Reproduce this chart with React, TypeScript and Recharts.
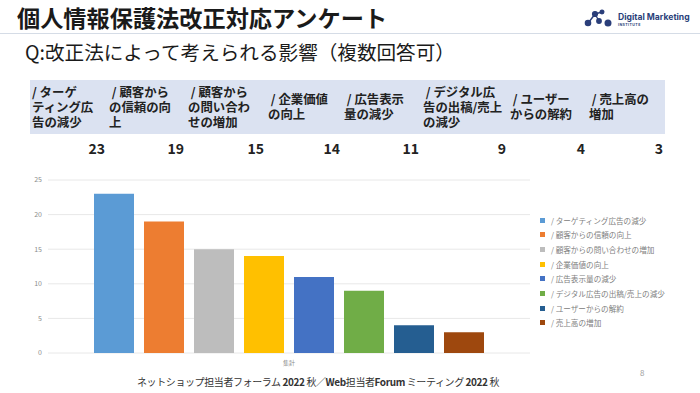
import React from "react"
import { BarChart, Bar, XAxis, YAxis, CartesianGrid } from "recharts"

const categories = [
  "/ ターゲティング広告の減少",
  "/ 顧客からの信頼の向上",
  "/ 顧客からの問い合わせの増加",
  "/ 企業価値の向上",
  "/ 広告表示量の減少",
  "/ デジタル広告の出稿/売上の減少",
  "/ ユーザーからの解約",
  "/ 売上高の増加",
]
// header cells wrap like the slide table
const headerLines = [
  ["/ ターゲ", "ティング広", "告の減少"],
  [" / 顧客から", "の信頼の向", "上"],
  [" / 顧客から", "の問い合わ", "せの増加"],
  [" / 企業価値", "の向上"],
  [" / 広告表示", "量の減少"],
  [" / デジタル広", "告の出稿/売上", "の減少"],
  [" / ユーザー", "からの解約"],
  [" / 売上高の", "増加"],
]
const counts = [23, 19, 15, 14, 11, 9, 4, 3]
const colors = ["#5b9bd5", "#ed7d31", "#bdbdbd", "#ffc000", "#4472c4", "#70ad47", "#255e91", "#9e480e"]
const groupLabel = "集計"
const yTicks = [0, 5, 10, 15, 20, 25]

const colEdges = [30, 107, 186, 266, 342, 421, 508, 587, 665]
const FONT = "'Noto Sans CJK JP', 'Noto Sans', sans-serif"

const chartData = [
  counts.reduce<Record<string, number | string>>(
    (row, v, i) => {
      row[`s${i}`] = v
      return row
    },
    { name: groupLabel }
  ),
]

function Logo() {
  return (
    <svg width={118} height={32} style={{ position: "absolute", left: 582, top: 2 }}>
      <g fill="#2b3f7a" stroke="#2b3f7a" strokeWidth={1.4}>
        <line x1={7} y1={20} x2={13} y2={12} />
        <line x1={13} y1={12} x2={20} y2={10} />
        <line x1={13} y1={12} x2={17} y2={19} />
        <circle cx={6} cy={21} r={2.6} />
        <circle cx={13} cy={12} r={2.4} />
        <circle cx={20} cy={10} r={1.8} />
        <circle cx={17} cy={19} r={2.2} />
        <circle cx={26} cy={21} r={2.8} />
      </g>
      <text x={36} y={18} fontSize={8.6} fontWeight={700} fill="#2b3f7a" fontFamily="'Inter', sans-serif">
        Digital Marketing
      </text>
      <text x={36} y={24} fontSize={3.6} fontWeight={700} fill="#2b3f7a" fontFamily="'Inter', sans-serif" letterSpacing={0.4}>
        INSTITUTE
      </text>
    </svg>
  )
}

export default function App() {
  return (
    <div
      style={{
        position: "absolute",
        left: 0,
        top: 0,
        width: 700,
        height: 393,
        background: "#ffffff",
        overflow: "hidden",
        fontFamily: FONT,
        color: "#1a1a1a",
      }}
    >
      <div style={{ position: "absolute", left: 17, top: 2, fontSize: 23.2, fontWeight: 700, lineHeight: "30px", whiteSpace: "nowrap" }}>
        個人情報保護法改正対応アンケート
      </div>
      <Logo />
      <div style={{ position: "absolute", left: 0, top: 33, width: 700, height: 1, background: "#d5dce6" }} />
      <div style={{ position: "absolute", left: 25, top: 39, fontSize: 19.6, lineHeight: "26px", whiteSpace: "nowrap" }}>
        Q:改正法によって考えられる影響（複数回答可）
      </div>

      {/* question table: header band + counts */}
      <div style={{ position: "absolute", left: 30, top: 80, width: 635, height: 54, background: "#dbe2f1" }} />
      {headerLines.map((lines, i) => (
        <div
          key={categories[i]}
          style={{
            position: "absolute",
            left: colEdges[i] + 2,
            top: 80,
            width: colEdges[i + 1] - colEdges[i] - 2,
            height: 54,
            display: "flex",
            flexDirection: "column",
            justifyContent: "center",
            fontSize: 12.4,
            fontWeight: 700,
            lineHeight: "15px",
            color: "#222",
            whiteSpace: "pre",
          }}
        >
          {lines.map((t) => (
            <div key={t} style={{ height: 15 }}>{t}</div>
          ))}
        </div>
      ))}
      {counts.map((v, i) => (
        <div
          key={`v${i}`}
          style={{
            position: "absolute",
            left: colEdges[i],
            top: 139,
            width: colEdges[i + 1] - colEdges[i] - 2,
            textAlign: "right",
            fontSize: 14,
            fontWeight: 700,
            lineHeight: "18px",
            color: "#222",
          }}
        >
          {v}
        </div>
      ))}

      <div style={{ position: "absolute", left: 0, top: 170 }}>
        <BarChart
          width={700}
          height={200}
          data={chartData}
          margin={{ top: 10, right: 170, bottom: 3, left: 20 }}
          barSize={40}
          barGap={10}
        >
          <CartesianGrid vertical={false} stroke="#e8e8e8" />
          <XAxis
            dataKey="name"
            height={14}
            tick={{ fontSize: 6, fill: "#8c8c8c" }}
            tickLine={false}
            axisLine={false}
          />
          <YAxis
            width={28}
            domain={[0, 25]}
            ticks={yTicks}
            tick={{ fontSize: 7, fill: "#8c8c8c" }}
            tickSize={4}
            tickLine={false}
            axisLine={false}
          />
          {counts.map((_, i) => (
            <Bar key={categories[i]} dataKey={`s${i}`} name={categories[i]} fill={colors[i]} isAnimationActive={false} />
          ))}
        </BarChart>
      </div>

      {/* legend */}
      {categories.map((c, i) => (
        <div
          key={`lg${i}`}
          style={{
            position: "absolute",
            left: 540,
            top: 214 + i * 14.7,
            height: 12,
            display: "flex",
            alignItems: "center",
            fontSize: 7.6,
            color: "#808080",
            whiteSpace: "nowrap",
          }}
        >
          <span style={{ display: "inline-block", width: 5, height: 5, background: colors[i], marginRight: 6 }} />
          {c}
        </div>
      ))}

      <div
        style={{
          position: "absolute",
          left: 137,
          top: 375,
          fontSize: 10,
          letterSpacing: -0.4,
          lineHeight: "14px",
          color: "#333",
          whiteSpace: "nowrap",
        }}
      >
        ネットショップ担当者フォーラム <b>2022</b> 秋／<b>Web</b>担当者<b>Forum</b> ミーティング <b>2022</b> 秋
      </div>
      <div style={{ position: "absolute", left: 640, top: 367, fontSize: 8, color: "#a0a0a0" }}>8</div>
    </div>
  )
}
